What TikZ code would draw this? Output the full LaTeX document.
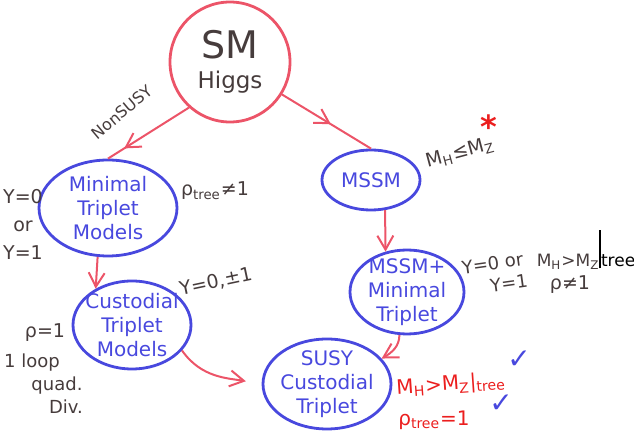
\documentclass[tikz,border=0pt]{standalone}
\usepackage{fontspec}
\setmainfont{DejaVu Sans}
\usetikzlibrary{arrows.meta,positioning,shapes.geometric,decorations.markings}
\definecolor{arrowred}{RGB}{236,84,104}
\definecolor{blobblue}{RGB}{72,72,222}
\definecolor{inkgray}{RGB}{70,60,60}
\definecolor{inkred}{RGB}{235,30,30}

\begin{document}
\begin{tikzpicture}[
    x=0.5pt, y=-0.5pt,
    model/.style={
        ellipse, draw=blobblue, line width=1.4pt, text=blobblue,
        inner sep=-3pt, align=center, font=\fontsize{10}{12}\selectfont
    },
    note/.style={text=inkgray, align=center, inner sep=1pt, font=\fontsize{9}{11}\selectfont},
    rednote/.style={text=inkred, inner sep=1pt, font=\fontsize{10}{12}\selectfont},
    tick/.style={text=blobblue, inner sep=0pt, font=\fontsize{14}{14}\selectfont},
    arrow/.style={-{Straight Barb[length=7pt,width=8pt]}, arrowred, line width=1pt},
    midarrow/.style={arrowred, line width=1pt, postaction={decorate},
        decoration={markings, mark=at position #1 with {\arrow{Straight Barb[length=7pt,width=8pt]}}}},
    midarrow/.default=0.6
]
\useasboundingbox (0,0) rectangle (634,433);

\node[circle, draw=arrowred, line width=1.4pt, minimum size=60pt, inner sep=0pt,
      text=inkgray, align=center] (sm) at (230,62)
      {{\fontsize{19}{20}\selectfont SM}\\[3pt]{\fontsize{11.5}{13}\selectfont Higgs}};

\node[model, minimum width=69pt, minimum height=48pt] (minimal) at (108,208) {Minimal\\Triplet\\Models};
\node[model, minimum width=59pt, minimum height=44pt] (custodial) at (132,325) {Custodial\\Triplet\\Models};
\node[model, minimum width=49pt, minimum height=30pt] (mssm) at (371,180) {MSSM};
\node[model, minimum width=57pt, minimum height=42pt] (mssmtrip) at (407,292) {MSSM+\\Minimal\\Triplet};
\node[model, minimum width=64pt, minimum height=45pt] (susy) at (327,384) {SUSY\\Custodial\\Triplet};

\draw[midarrow=0.8] (sm.228) -- (minimal.north);
\draw[midarrow=0.55] (sm.-32) -- (mssm.north);
\draw[arrow] (minimal.258) -- (custodial.135);
\draw[arrow] (mssm.295) -- (mssmtrip.118);
\draw[arrow, shorten >=8pt] (custodial.-27) to[out=-55, in=170] (susy.west);
\draw[arrow] (mssmtrip.260) to[out=-90, in=30] (susy.25);

\node[note, rotate=40, font=\fontsize{8}{10}\selectfont] (nonsusy) at (122,112) {NonSUSY};

\node[note, font=\fontsize{9.5}{14}\selectfont] (hypminimal) at (23,224) {Y=0\\or\\Y=1};
\node[note, font=\fontsize{9.5}{11}\selectfont] (rhominimal) at (215,191) {ρ\textsubscript{tree}≠1};
\node[note, rotate=12, font=\fontsize{9.5}{11}\selectfont] (hypcustodial) at (216,282) {Y=0,±1};

\node[note, font=\fontsize{9.5}{11}\selectfont] (rhocustodial) at (45,333) {ρ=1};
\node[note] (loopa) at (32,363) {1 loop};
\node[note] (loopb) at (57,386) {quad.};
\node[note] (loopc) at (66,407) {Div.};

\node[note, rotate=15, font=\fontsize{9.5}{11}\selectfont] (mhlow) at (460,153) {M\textsubscript{H}≤M\textsubscript{Z}};
\node[text=inkred, inner sep=0pt, font=\fontsize{16}{16}\selectfont\bfseries] (star) at (489,127) {*};

\node[note, rotate=8] (hypmssm) at (494,274) {Y=0 or\\\hspace{1.5em}Y=1};
\node[note, font=\fontsize{8.5}{10}\selectfont] (mhhigh) at (586,250)
      {M\textsubscript{H}>M\textsubscript{Z}{\color{black}\rule[-1pt]{0.8pt}{19pt}tree}};
\node[note, font=\fontsize{9.5}{11}\selectfont] (rhomssm) at (570,285) {ρ≠1};

\node[rednote, rotate=4] (mhsusy) at (451,385) {M\textsubscript{H}>M\textsubscript{Z}|\textsubscript{tree}};
\node[rednote] (rhosusy) at (434,420) {ρ\textsubscript{tree}=1};
\node[tick] (tickone) at (519,360) {✓};
\node[tick] (ticktwo) at (501,404) {✓};
\end{tikzpicture}
\end{document}
